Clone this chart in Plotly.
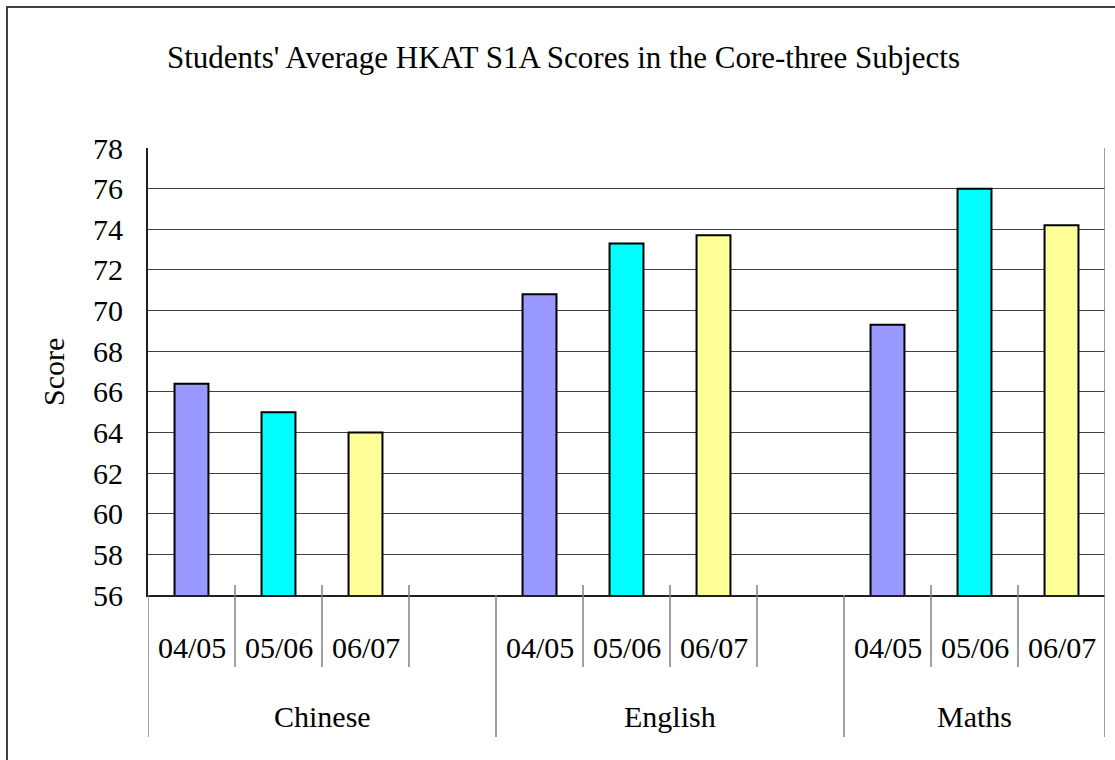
import plotly.graph_objects as go

# ---- data ----
subjects = ["Chinese", "English", "Maths"]
years = ["04/05", "05/06", "06/07"]
chinese = [66.4, 65.0, 64.0]
english = [70.8, 73.3, 73.7]
maths = [69.3, 76.0, 74.2]
y_ticks = [56, 58, 60, 62, 64, 66, 68, 70, 72, 74, 76, 78]
year_colors = ["#9999FF", "#00FFFF", "#FFFF99"]

series = [chinese, english, maths]
slots_per_group = 4  # 3 years + one empty slot
n_slots = slots_per_group * len(subjects) - 1

FONT = "Liberation Serif, Times New Roman, serif"
W, H = 1115, 760
L, R, T, B = 148, 10, 148, 165
pw, ph = W - L - R, H - T - B


def py(pix):
    """pixel y (from top) -> paper y"""
    return (H - B - pix) / ph


def px(pix):
    return (pix - L) / pw


fig = go.Figure()

for j, yr in enumerate(years):
    xs = [g * slots_per_group + j for g in range(len(subjects))]
    ys = [series[g][j] for g in range(len(subjects))]
    fig.add_trace(go.Bar(
        x=xs, y=ys, name=yr, width=0.39,
        marker=dict(color=year_colors[j], line=dict(color="black", width=2)),
        showlegend=False, hoverinfo="skip",
    ))

shapes = []
annotations = []
# sub-category labels and ticks
for g, subj in enumerate(subjects):
    base = g * slots_per_group
    for j, yr in enumerate(years):
        annotations.append(dict(x=base + j, y=py(647), xref="x", yref="paper",
                                text=yr, showarrow=False, yanchor="middle",
                                font=dict(family=FONT, size=30, color="black")))
        if base + j + 0.5 < n_slots - 0.5:
            shapes.append(dict(type="line", xref="x", yref="paper",
                               x0=base + j + 0.5, x1=base + j + 0.5,
                               y0=py(585), y1=py(667),
                               line=dict(color="#808080", width=1.5)))
    gcenter = (base - 0.5 + min(base + slots_per_group - 0.5, n_slots - 0.5)) / 2
    annotations.append(dict(x=gcenter, y=py(716), xref="x", yref="paper",
                            text=subj, showarrow=False, yanchor="middle",
                            font=dict(family=FONT, size=30, color="black")))
# group dividers
for xb in [g * slots_per_group - 0.5 for g in range(len(subjects))] + [n_slots - 0.5]:
    shapes.append(dict(type="line", xref="x", yref="paper",
                       x0=xb, x1=xb, y0=py(595), y1=py(737),
                       line=dict(color="#808080", width=1.5)))
# right border of plot area
shapes.append(dict(type="line", xref="x", yref="paper",
                   x0=n_slots - 0.5, x1=n_slots - 0.5, y0=0, y1=1,
                   line=dict(color="#808080", width=1.5)))
# outer chart border
shapes.append(dict(type="rect", xref="paper", yref="paper",
                   x0=px(7), x1=px(1125), y0=py(7), y1=py(775),
                   line=dict(color="#404040", width=2)))

annotations.append(dict(x=px(53), y=py(372), xref="paper", yref="paper",
                        text="Score", textangle=-90, showarrow=False,
                        xanchor="center", yanchor="middle",
                        font=dict(family=FONT, size=30, color="black")))

fig.update_layout(
    width=W, height=H,
    margin=dict(l=L, r=R, t=T, b=B, autoexpand=False),
    paper_bgcolor="white", plot_bgcolor="white",
    font=dict(family=FONT, color="black"),
    title=dict(text="Students' Average HKAT S1A Scores in the Core-three Subjects",
               x=563.5 / W, xanchor="center", y=1 - 57 / H, yanchor="middle",
               yref="container",
               font=dict(family=FONT, size=31, color="black")),
    barmode="overlay",
    shapes=shapes,
    annotations=annotations,
    xaxis=dict(range=[-0.5, n_slots - 0.5], showgrid=False, zeroline=False,
               showticklabels=False, ticks="", showline=True,
               linecolor="#202020", linewidth=1.5, fixedrange=True),
    yaxis=dict(range=[y_ticks[0], y_ticks[-1]], tickvals=y_ticks,
               showgrid=True, gridcolor="#404040", gridwidth=1,
               zeroline=False, showline=True, linecolor="#202020", linewidth=2,
               ticks="", ticklabelstandoff=17,
               tickfont=dict(family=FONT, size=30, color="black"),
               fixedrange=True),
)

fig.write_html("out.html", config={"displayModeBar": False},
               post_script="document.body.style.margin='0';document.body.style.overflow='hidden';")
